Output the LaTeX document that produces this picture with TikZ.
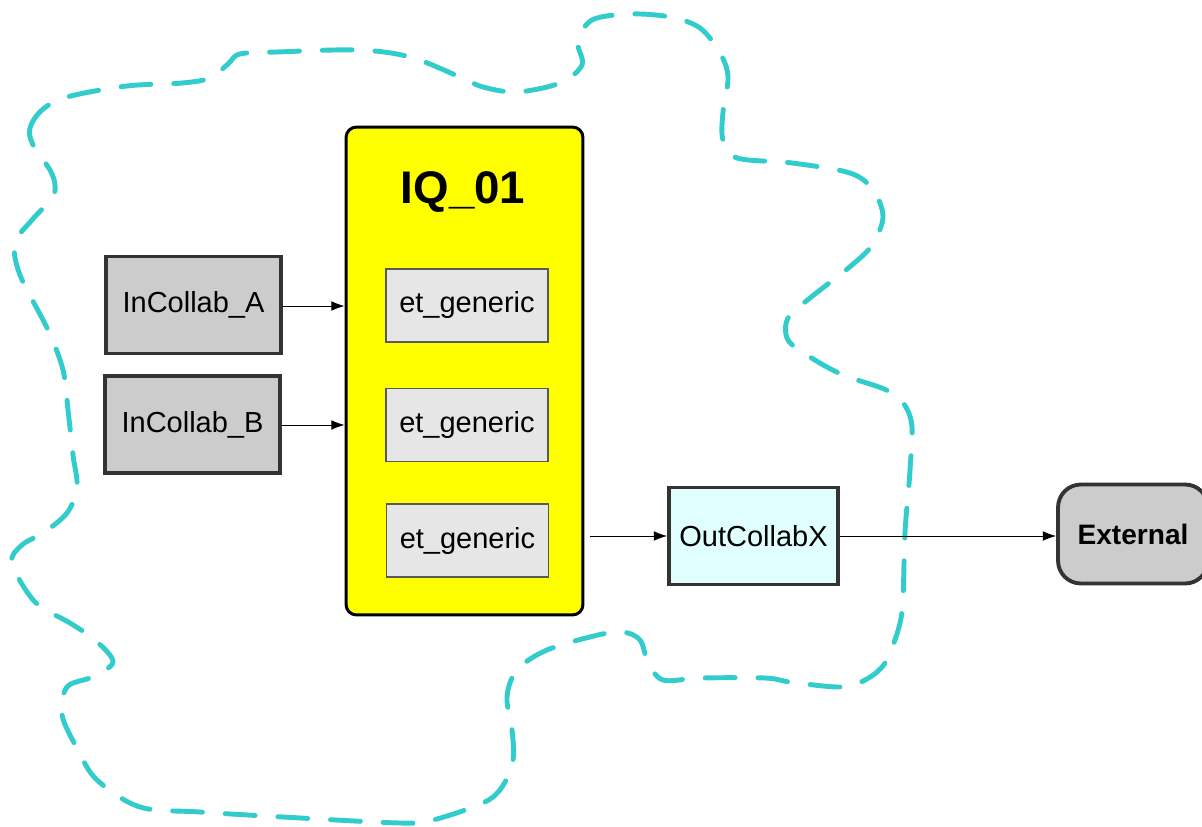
\documentclass[tikz,border=0pt]{standalone}
\usepackage{fontspec}
\setmainfont{Liberation Sans}
\usetikzlibrary{arrows.meta}

\definecolor{cloudcyan}{RGB}{51,204,204}
\definecolor{collabgray}{RGB}{204,204,204}
\definecolor{etgray}{RGB}{230,230,230}
\definecolor{outcyan}{RGB}{224,255,255}
\definecolor{edgegray}{RGB}{51,51,51}
\definecolor{iqyellow}{RGB}{255,255,0}

\tikzset{
    collab/.style={draw=edgegray, line width=2.2pt, minimum width=3.5cm, minimum height=1.94cm},
    etbox/.style={draw=black!65, fill=etgray, line width=0.6pt, minimum width=3.24cm, minimum height=1.46cm},
    link/.style={-{Latex[length=7.5pt,width=5.5pt]}, line width=0.5pt}
}

\begin{document}
\begin{tikzpicture}[x=0.02cm, y=-0.02cm, font=\fontsize{16.5}{20}\selectfont]
    \useasboundingbox (0,0) rectangle (1202,827);

    % Boundary cloud
    \draw[cloudcyan, line width=2.8pt, line cap=round, dash pattern=on 17pt off 13pt]
        plot[smooth cycle, tension=0.55] coordinates {
        (33,145) (30,128) (42,110) (67,97) (127,86) (182,83) (210,78) (228,64)
        (240,54) (277,52) (358,50) (410,57) (460,77) (483,87) (517,92) (560,83)
        (582,65) (578,42) (592,20) (630,14) (670,17) (700,28) (720,53) (728,77)
        (723,112) (723,140) (737,158) (792,163) (850,173) (873,190) (883,217)
        (872,245) (852,265) (810,298) (788,318) (788,340) (810,357) (843,375)
        (892,393) (911,420) (910,470) (905,532) (903,597) (899,627) (885,663)
        (865,680) (840,687) (790,682) (765,678) (700,678) (663,680) (648,662)
        (640,640) (623,632) (598,635) (547,650) (517,670) (507,697) (512,730)
        (513,760) (502,787) (483,803) (433,820) (400,823) (283,817) (200,812)
        (140,807) (97,780) (78,750) (62,715) (67,687) (92,677) (113,662)
        (95,640) (70,623) (35,602) (12,563) (22,545) (43,533) (67,513)
        (77,487) (73,455) (68,410) (63,370) (48,330) (20,275) (15,243)
        (32,220) (52,198) (55,185) (50,170)
    };

    % Inner block with its three element types
    \node[draw=black, fill=iqyellow, line width=1.7pt, rounded corners=6pt,
          minimum width=4.74cm, minimum height=9.76cm] (iq) at (464.5,371) {};
    \node[font=\fontsize{26}{30}\selectfont\bfseries] (title) at (463,192) {IQ\_01};
    \node[etbox] (et1) at (467,305.5) {et\_generic};
    \node[etbox] (et2) at (467,425) {et\_generic};
    \node[etbox] (et3) at (467.5,540.5) {et\_generic};

    % Collaborators
    \node[collab, fill=collabgray] (ina) at (193.5,305) {InCollab\_A};
    \node[collab, fill=collabgray] (inb) at (192.5,424.5) {InCollab\_B};
    \node[collab, fill=outcyan, minimum width=3.38cm] (out) at (753.5,536) {OutCollabX};
    \node[draw=edgegray, fill=collabgray, line width=2.2pt, rounded corners=13pt,
          minimum width=3cm, minimum height=1.98cm, font=\fontsize{16}{20}\selectfont\bfseries]
          (ext) at (1133,534) {External};

    % Flows
    \draw[link] (ina.east |- 0,306) -- (iq.west |- 0,306);
    \draw[link] (inb.east |- 0,425) -- (iq.west |- 0,425);
    \draw[link] ([xshift=3pt]iq.east |- out) -- (out.west);
    \draw[link] (out.east) -- (out.east -| ext.west);
\end{tikzpicture}
\end{document}
